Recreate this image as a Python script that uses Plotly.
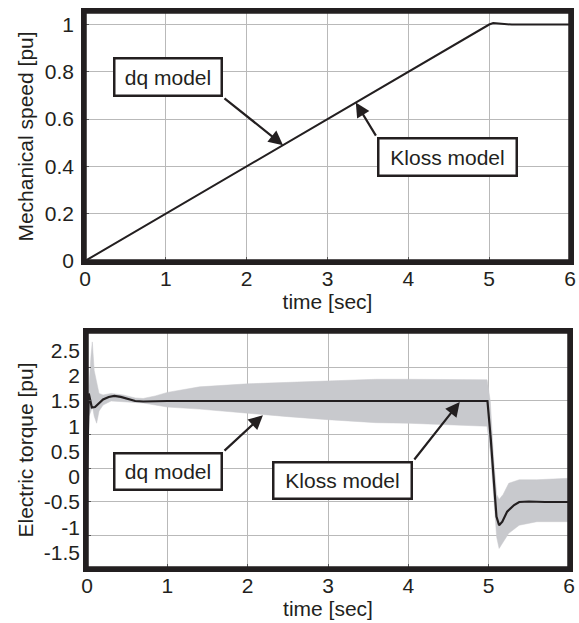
import plotly.graph_objects as go

W, H = 579, 623
INK = "#231f20"
GRID = "#b9b9b9"
BAND = "#c8c9cd"

# ---------------- data ----------------
# Top panel: mechanical speed (dq and Kloss models coincide)
speed_time = [0, 1, 2, 3, 4, 5.0, 5.05, 5.15, 5.28, 6]
speed_pu = [0, 0.2, 0.4, 0.6, 0.8, 1.0, 1.006, 1.003, 1.0, 1.0]

# Bottom panel: electric torque, Kloss model (black line)
kloss_time = [0, 0.01, 0.022, 0.04, 0.06, 0.1, 0.15, 0.2, 0.27, 0.34, 0.42, 0.5,
              0.6, 0.7, 0.85, 1.0, 2.0, 3.0, 4.0, 4.985, 5.027, 5.068, 5.097,
              5.13, 5.17, 5.23, 5.317, 5.38, 5.5, 5.7, 6.0]
kloss_torque = [0, 1.1, 1.65, 1.52, 1.37, 1.38, 1.46, 1.53, 1.58, 1.6, 1.58, 1.54,
                1.5, 1.49, 1.5, 1.5, 1.5, 1.5, 1.5, 1.5, 0.73, -0.26, -0.79,
                -0.96, -0.89, -0.69, -0.56, -0.5, -0.49, -0.5, -0.5]

# Bottom panel: electric torque, dq model (grey oscillation band envelope)
dq_time = [0, 0.025, 0.05, 0.066, 0.09, 0.12, 0.15, 0.2, 0.3, 0.45, 0.6, 0.7,
           0.85, 1.0, 1.4, 2.0, 2.5, 3.0, 3.6, 4.0, 4.5, 4.98, 5.02, 5.06, 5.1,
           5.13, 5.18, 5.25, 5.38, 5.6, 6.0]
dq_upper = [0, 1.8, 2.4, 2.67, 2.1, 1.9, 1.65, 1.62, 1.65, 1.62, 1.56, 1.55,
            1.6, 1.67, 1.78, 1.84, 1.87, 1.9, 1.93, 1.93, 1.93, 1.92, 1.5, 0.4,
            -0.35, -0.45, -0.35, -0.13, -0.06, -0.06, -0.03]
dq_lower = [0, 1.2, 1.3, 1.4, 1.2, 1.06, 1.3, 1.42, 1.5, 1.48, 1.46, 1.46,
            1.42, 1.38, 1.34, 1.25, 1.19, 1.13, 1.07, 1.06, 1.03, 1.0, 0.5, -0.4,
            -1.2, -1.42, -1.3, -1.12, -0.96, -0.89, -0.89]

time_ticks = [0, 1, 2, 3, 4, 5, 6]
speed_ticks = [0, 0.2, 0.4, 0.6, 0.8, 1]
torque_ticks = [-1.5, -1, -0.5, 0, 0.5, 1, 1.5, 2, 2.5]
torque_ticktext = ["-1.5", "-1", "-0.5", "0", "0.5", "1", "1.5", "2", "2.5"]
torque_grid = [-1.1667, -0.5, 0.1667, 0.8333, 1.5, 2.1667]

# ---------------- figure ----------------
fig = go.Figure()

fig.add_trace(go.Scatter(x=speed_time, y=speed_pu, mode="lines",
                         line=dict(color=INK, width=2), name="speed",
                         xaxis="x", yaxis="y", showlegend=False))

fig.add_trace(go.Scatter(x=dq_time, y=dq_upper, mode="lines",
                         line=dict(color=BAND, width=0.5), name="dq upper",
                         xaxis="x2", yaxis="y2", showlegend=False))
fig.add_trace(go.Scatter(x=dq_time, y=dq_lower, mode="lines", fill="tonexty",
                         fillcolor=BAND, line=dict(color=BAND, width=0.5),
                         name="dq model", xaxis="x2", yaxis="y2", showlegend=False))
fig.add_trace(go.Scatter(x=kloss_time, y=kloss_torque, mode="lines",
                         line=dict(color=INK, width=2.2), name="Kloss model",
                         xaxis="x2", yaxis="y2", showlegend=False))

FONT = "Liberation Sans, Arial, sans-serif"
tickfont = dict(family=FONT, size=21, color=INK)
titlefont = dict(family=FONT, size=21, color=INK)

common_x = dict(range=[0, 6], tickvals=time_ticks, showgrid=True, gridcolor=GRID,
                gridwidth=1, zeroline=False, showline=True, linecolor=INK,
                linewidth=3.5, mirror=True, ticks="inside", ticklen=4,
                tickcolor="#555", tickwidth=1, tickfont=tickfont,
                automargin=False, ticklabelstandoff=-4)

fig.update_layout(
    width=W, height=H,
    margin=dict(l=0, r=0, t=0, b=0),
    paper_bgcolor="white", plot_bgcolor="white",
    xaxis=dict(common_x, domain=[85 / W, 570 / W], anchor="y",
               title=dict(text="time [sec]", font=titlefont, standoff=0)),
    yaxis=dict(domain=[(H - 261) / H, (H - 12) / H], anchor="x",
               range=[0, 1.053], tickvals=speed_ticks, showgrid=True,
               gridcolor=GRID, gridwidth=1, zeroline=False, showline=True,
               linecolor=INK, linewidth=3.5, mirror=True, ticks="inside",
               ticklen=4, tickcolor="#555", tickwidth=1, tickfont=tickfont,
               automargin=False, ticklabelstandoff=3,
               title=dict(text="Mechanical speed [pu]", font=titlefont, standoff=6)),
    xaxis2=dict(common_x, domain=[87 / W, 569 / W], anchor="y2",
                title=dict(text="time [sec]", font=titlefont, standoff=4)),
    yaxis2=dict(domain=[(H - 568) / H, (H - 332) / H], anchor="x2",
                range=[-1.807, 2.866], tickvals=torque_grid, showticklabels=False,
                showgrid=True, gridcolor=GRID, gridwidth=1, zeroline=False,
                showline=True, linecolor=INK, linewidth=3.5, mirror=True,
                ticks="inside", ticklen=4, tickcolor="#555", tickwidth=1,
                automargin=False),
    yaxis3=dict(overlaying="y2", anchor="x2", side="left",
                range=[-1.807, 2.866], tickvals=torque_ticks,
                ticktext=torque_ticktext, showgrid=False, zeroline=False,
                showline=False, ticks="", tickfont=tickfont, automargin=False,
                ticklabelstandoff=6,
                title=dict(text="Electric torque [pu]", font=titlefont, standoff=4)),
)

# invisible anchor trace so yaxis3 is drawn
fig.add_trace(go.Scatter(x=[None], y=[None], xaxis="x2", yaxis="y3",
                         showlegend=False, hoverinfo="skip"))

# heavy frames around both plot areas (paper coordinates, not clipped)
frames = [((85, 570), (12, 261)), ((87, 569), (332, 568))]
for (xl, xr), (yt, yb) in frames:
    fig.add_shape(type="rect", xref="paper", yref="paper",
                  x0=xl / W, x1=xr / W, y0=(H - yb) / H, y1=(H - yt) / H,
                  line=dict(color=INK, width=3.5), fillcolor="rgba(0,0,0,0)",
                  layer="above")

boxfont = dict(family=FONT, size=21, color=INK)


def label_box(text, x, y, xref, yref, w, h):
    fig.add_annotation(x=x, y=y, xref=xref, yref=yref, text=text, showarrow=False,
                       font=boxfont, bgcolor="white", bordercolor=INK,
                       borderwidth=2.5, borderpad=1, width=w - 7, height=h - 7,
                       xanchor="center", yanchor="middle")


def arrow(x, y, ax, ay, xref, yref):
    fig.add_annotation(x=x, y=y, ax=ax, ay=ay, xref=xref, yref=yref,
                       axref=xref, ayref=yref, text="", showarrow=True,
                       arrowhead=2, arrowsize=1.3, arrowwidth=2.2,
                       arrowcolor=INK, standoff=0, startstandoff=0)


# top panel labels
label_box("dq model", 1.027, 0.778, "x", "y", 110, 40)
arrow(2.45, 0.49, 1.707, 0.693, "x", "y")
label_box("Kloss model", 4.485, 0.44, "x", "y", 141, 40)
arrow(3.35, 0.67, 3.61, 0.524, "x", "y")

# bottom panel labels
label_box("dq model", 1.008, 0.104, "x2", "y2", 110, 39)
arrow(2.19, 1.22, 1.693, 0.49, "x2", "y2")
label_box("Kloss model", 3.18, -0.074, "x2", "y2", 141, 39)
arrow(4.64, 1.48, 4.06, 0.312, "x2", "y2")

fig.write_html("out.html", config={"displayModeBar": False},
               post_script="document.documentElement.style.overflow='hidden';"
                           "document.body.style.overflow='hidden';"
                           "document.body.style.margin='0';"
                           "document.body.style.padding='0';")
